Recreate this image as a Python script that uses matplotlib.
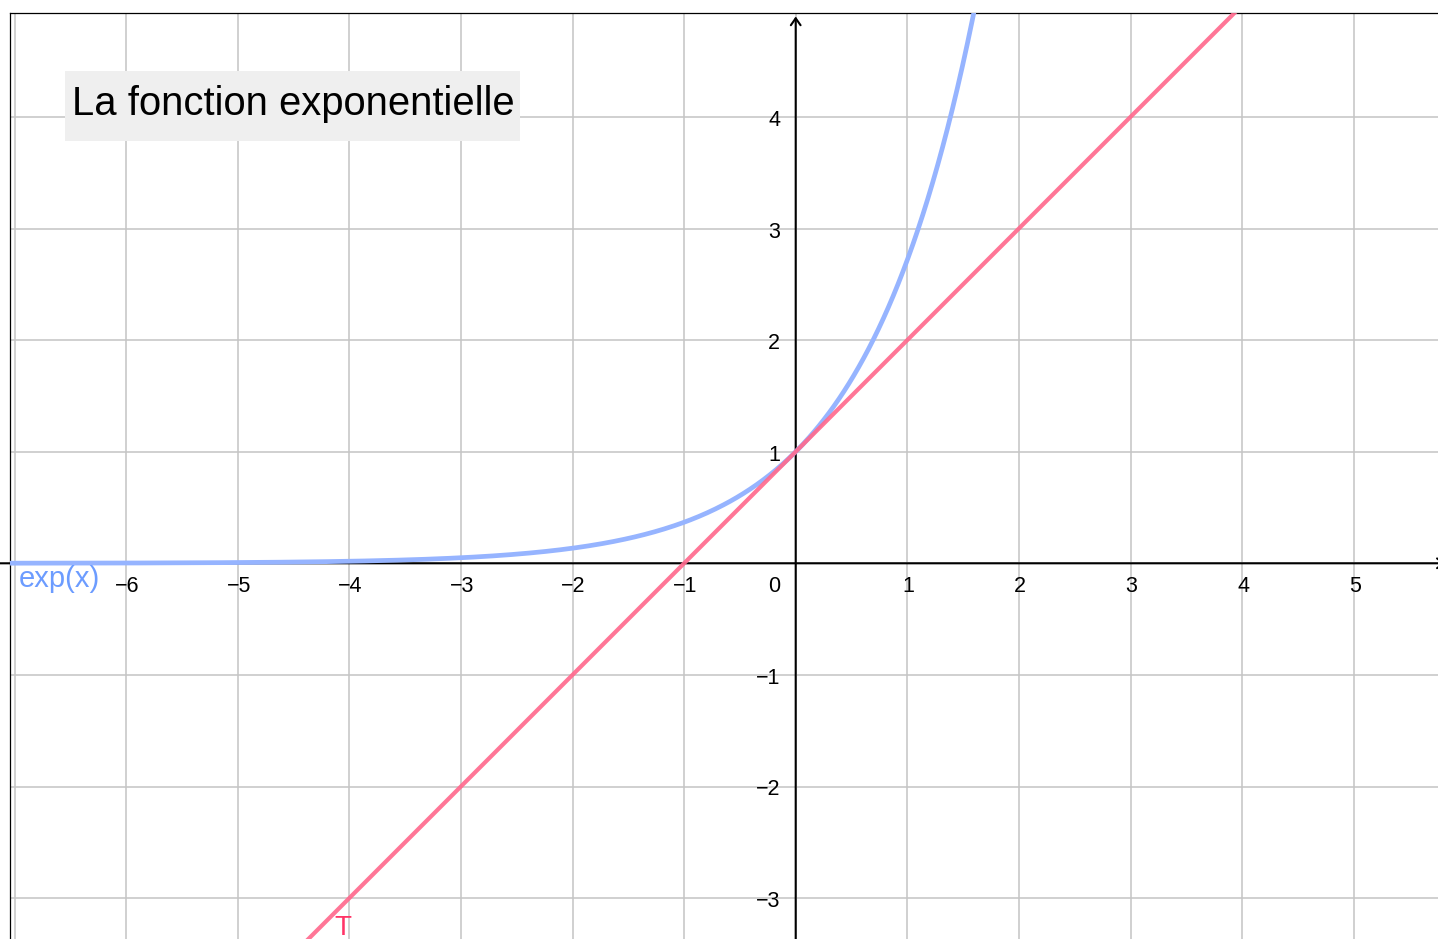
import numpy as np
import matplotlib
matplotlib.use("Agg")
import matplotlib.pyplot as plt
from matplotlib.patches import Rectangle

plt.rcParams['font.family'] = ['Liberation Sans', 'DejaVu Sans']

# données du graphique
title = "La fonction exponentielle"
x_labels = [-6, -5, -4, -3, -2, -1, 1, 2, 3, 4, 5]
y_labels = [-3, -2, -1, 1, 2, 3, 4]
x_grid = list(range(-7, 6))
y_grid = list(range(-3, 5))
tangent_slope = 1.0      # T : y = x + 1 (tangente en 0)
tangent_intercept = 1.0
curve_label = "exp(x)"
tangent_label = "T"

W, H = 1438, 939
x0_px, y0_px, unit = 795.7, 563.3, 111.6
ax_left_px, ax_top_px = 10, 13

fig = plt.figure(figsize=(W / 100, H / 100), dpi=100)
ax = fig.add_axes([ax_left_px / W, 0, 1 - ax_left_px / W, 1 - ax_top_px / H])

xmin = (ax_left_px - x0_px) / unit
xmax = (W - x0_px) / unit
ymin = -(H - y0_px) / unit
ymax = (y0_px - ax_top_px) / unit
ax.set_xlim(xmin, xmax)
ax.set_ylim(ymin, ymax)

# grille
ax.set_xticks(x_grid)
ax.set_yticks(y_grid)
ax.tick_params(length=0, labelbottom=False, labelleft=False)
ax.grid(True, color='#c4c4c4', linewidth=1.1)
ax.set_axisbelow(True)
for side in ['right', 'bottom']:
    ax.spines[side].set_visible(False)
for side in ['left', 'top']:
    ax.spines[side].set_color('black')
    ax.spines[side].set_linewidth(0.9)

# axes avec flèches
ax.annotate('', xy=(0, 4.90), xytext=(0, ymin - 0.1),
            arrowprops=dict(arrowstyle='->,head_length=0.5,head_width=0.35',
                            color='black', lw=1.5, shrinkA=0, shrinkB=0),
            annotation_clip=False, zorder=2)
ax.annotate('', xy=(xmax + 0.07, 0), xytext=(xmin - 0.1, 0),
            arrowprops=dict(arrowstyle='->,head_length=0.5,head_width=0.35',
                            color='black', lw=1.5, shrinkA=0, shrinkB=0),
            annotation_clip=False, zorder=2)

# graduations
for v in x_labels:
    ax.annotate(str(v).replace('-', '\u2212'), (v, 0), xytext=(1, -28.5),
                textcoords='offset pixels', ha='center', va='baseline',
                fontsize=15.5, color='black')
for v in y_labels:
    ax.annotate(str(v).replace('-', '\u2212'), (0, v), xytext=(-15.5, -9),
                textcoords='offset pixels', ha='right', va='baseline',
                fontsize=15.5, color='black')
ax.annotate('0', (0, 0), xytext=(-15.5, -28.5), textcoords='offset pixels',
            ha='right', va='baseline', fontsize=15.5, color='black')

# courbes
xs = np.linspace(xmin - 0.1, 1.7, 600)
ax.plot(xs, np.exp(xs), color='#96b4ff', linewidth=3.4, zorder=3,
        solid_capstyle='butt')
xt = np.array([xmin - 0.1, xmax + 0.1])
ax.plot(xt, tangent_slope * xt + tangent_intercept, color='#ff6a8e',
        linewidth=3.0, alpha=0.92, zorder=4)

ax.text(-6.96, -0.215, curve_label, color='#6c9cff', fontsize=21,
        ha='left', va='baseline', zorder=5)
ax.text(-4.137, -3.33, tangent_label, color='#ff3366', fontsize=20,
        ha='left', va='baseline', zorder=5)

# titre
ax.add_patch(Rectangle((65 / W, 1 - 141 / H), 455 / W, 70 / H,
                       transform=fig.transFigure, facecolor='#efefef',
                       edgecolor='none', zorder=6))
ax.text(71.5 / W, 1 - 115 / H, title, transform=fig.transFigure,
        fontsize=28.8, color='black', ha='left', va='baseline', zorder=7)

fig.savefig('out.png', dpi=100)
